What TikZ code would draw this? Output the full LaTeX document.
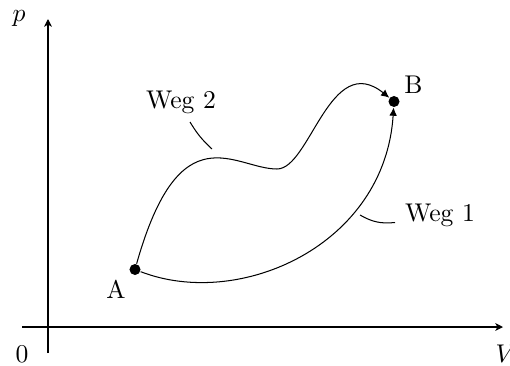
\documentclass[tikz,border=0pt]{standalone}
\usetikzlibrary{arrows.meta}
\begin{document}
\begin{tikzpicture}[x=0.013725cm, y=-0.013725cm,
  dot/.style={circle, fill=black, inner sep=0pt, minimum size=4.3pt},
  axis/.style={-{Stealth[length=3pt,width=3pt,inset=0.8pt]}},
  path/.style={-{Latex[length=3.2pt,width=3pt]}},
  lbl/.style={inner sep=0pt, anchor=base}]
\useasboundingbox (0,0) rectangle (510,365);
% axes
\coordinate (xs) at (22,327);
\coordinate (xe) at (503,327);
\coordinate (ys) at (48,353);
\coordinate (ye) at (48,19);
\draw[axis] (xs) -- (xe);
\draw[axis] (ys) -- (ye);
\node[lbl] (zero) at (22,362) {0};
\node[lbl] (vlab) at (506,362.5) {$V$};
\node[lbl] (plab) at (19,21.5) {$p$};
% points
\node[dot] (A) at (135,269.5) {};
\node[dot] (B) at (394,101.5) {};
\node (Alab) at (116,289) {A};
\node (Blab) at (413.5,85) {B};
% paths
\draw[path] (A) .. controls (240,310) and (385,245) .. (B);
\coordinate (M) at (277,169);
\draw[path] (A) .. controls (180,110) and (235,169) .. (M)
  .. controls (310,169) and (330,50) .. (B);
% labels with pin lines
\node[lbl] (w2) at (181,108) {Weg 2};
\node[lbl] (w1) at (440,221) {Weg 1};
\coordinate (p2a) at (190,122);
\coordinate (p2b) at (212,149);
\draw (p2a) to[bend right=8] (p2b);
\coordinate (p1a) at (360,215);
\coordinate (p1b) at (395,222.5);
\draw (p1a) to[bend right=18] (p1b);
\end{tikzpicture}
\end{document}
